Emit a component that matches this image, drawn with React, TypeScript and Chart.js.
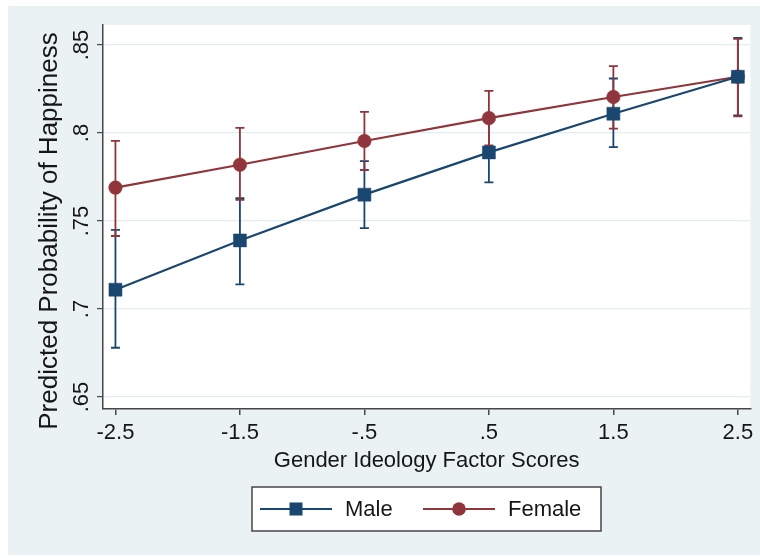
import React, { useEffect, useRef } from 'react';
import { Chart, registerables } from 'chart.js';

Chart.register(...registerables);

const xValues = [-2.5, -1.5, -0.5, 0.5, 1.5, 2.5];
const xTicks = [-2.5, -1.5, -0.5, 0.5, 1.5, 2.5];
const xTickLabels = ['-2.5', '-1.5', '-.5', '.5', '1.5', '2.5'];
const yTicks = [0.65, 0.7, 0.75, 0.8, 0.85];
const yTickLabels = ['.65', '.7', '.75', '.8', '.85'];

const maleValues = [0.711, 0.739, 0.765, 0.789, 0.811, 0.832];
const maleLow = [0.678, 0.714, 0.746, 0.772, 0.792, 0.81];
const maleHigh = [0.745, 0.763, 0.784, 0.807, 0.831, 0.854];

const femaleValues = [0.769, 0.782, 0.7955, 0.8085, 0.8205, 0.832];
const femaleLow = [0.7415, 0.762, 0.779, 0.793, 0.8025, 0.8095];
const femaleHigh = [0.7955, 0.803, 0.812, 0.824, 0.838, 0.8535];

const seriesLabels = ['Male', 'Female'];
const xTitle = 'Gender Ideology Factor Scores';
const yTitle = 'Predicted Probability of Happiness';

const BLUE = '#1a476f';
const RED = '#90353b';
const FONT = '"Liberation Sans", Arial, Helvetica, sans-serif';
const TEXT = '#161616';
const AXIS = '#474747';

const decorPlugin = {
  id: 'decor',
  beforeDraw(chart: any) {
    const { ctx, chartArea } = chart;
    ctx.save();
    ctx.fillStyle = '#ffffff';
    ctx.fillRect(0, 0, chart.width, chart.height);
    ctx.fillStyle = '#eaf2f3';
    ctx.fillRect(8, 6, chart.width - 8, chart.height - 9);
    ctx.fillStyle = '#ffffff';
    ctx.fillRect(chartArea.left, chartArea.top, chartArea.right - chartArea.left, chartArea.bottom - chartArea.top);
    ctx.restore();
  },
  beforeDatasetsDraw(chart: any) {
    const { ctx } = chart;
    const xs = chart.scales.x;
    const ys = chart.scales.y;
    ctx.save();
    chart.data.datasets.forEach((ds: any) => {
      ctx.strokeStyle = ds.borderColor;
      ctx.lineWidth = 1.8;
      ds.data.forEach((p: any, i: number) => {
        const px = xs.getPixelForValue(p.x);
        const lo = ys.getPixelForValue(ds.errLow[i]);
        const hi = ys.getPixelForValue(ds.errHigh[i]);
        ctx.beginPath();
        ctx.moveTo(px, lo);
        ctx.lineTo(px, hi);
        ctx.moveTo(px - 4.5, lo);
        ctx.lineTo(px + 4.5, lo);
        ctx.moveTo(px - 4.5, hi);
        ctx.lineTo(px + 4.5, hi);
        ctx.stroke();
      });
    });
    ctx.restore();
  },
  afterDraw(chart: any) {
    const { ctx, chartArea } = chart;
    const ys = chart.scales.y;
    ctx.save();
    ctx.fillStyle = TEXT;
    ctx.font = `22px ${FONT}`;
    ctx.textAlign = 'center';
    ctx.textBaseline = 'alphabetic';
    ys.ticks.forEach((t: any, i: number) => {
      const py = ys.getPixelForValue(t.value);
      ctx.save();
      ctx.translate(88, py);
      ctx.rotate(-Math.PI / 2);
      ctx.fillText(yTickLabels[i], 0, 0);
      ctx.restore();
    });
    ctx.font = `26px ${FONT}`;
    ctx.save();
    ctx.translate(57, 231);
    ctx.rotate(-Math.PI / 2);
    ctx.fillText(yTitle, 0, 0);
    ctx.restore();
    ctx.font = `22px ${FONT}`;
    ctx.fillText(xTitle, (chartArea.left + chartArea.right) / 2, 467);

    const lx = 252, ly = 487, lw = 349, lh = 44;
    ctx.fillStyle = '#ffffff';
    ctx.fillRect(lx, ly, lw, lh);
    ctx.strokeStyle = AXIS;
    ctx.lineWidth = 1.5;
    ctx.strokeRect(lx, ly, lw, lh);
    const cy = ly + lh / 2;
    const starts = [260, 423];
    chart.data.datasets.forEach((ds: any, i: number) => {
      const x0 = starts[i];
      ctx.strokeStyle = ds.borderColor;
      ctx.lineWidth = 2.2;
      ctx.beginPath();
      ctx.moveTo(x0, cy);
      ctx.lineTo(x0 + 72, cy);
      ctx.stroke();
      ctx.fillStyle = ds.borderColor;
      const mx = x0 + 36;
      if (ds.pointStyle === 'rect') {
        ctx.fillRect(mx - 6.5, cy - 6.5, 13, 13);
      } else {
        ctx.beginPath();
        ctx.arc(mx, cy, 6.8, 0, Math.PI * 2);
        ctx.fill();
      }
      ctx.fillStyle = TEXT;
      ctx.font = `22px ${FONT}`;
      ctx.textAlign = 'left';
      ctx.textBaseline = 'middle';
      ctx.fillText(ds.label, x0 + 85, cy + 1);
    });
    ctx.restore();
  },
};

export default function App() {
  const ref = useRef<HTMLCanvasElement | null>(null);
  useEffect(() => {
    document.body.style.margin = '0';
    if (!ref.current) return;
    const chart = new Chart(ref.current, {
      type: 'line',
      data: {
        datasets: [
          {
            label: seriesLabels[0],
            data: xValues.map((x, i) => ({ x, y: maleValues[i] })),
            errLow: maleLow,
            errHigh: maleHigh,
            borderColor: BLUE,
            backgroundColor: BLUE,
            borderWidth: 2.2,
            pointStyle: 'rect',
            pointRadius: 9.2,
            pointBorderWidth: 0.5,
            pointBorderColor: BLUE,
            pointBackgroundColor: BLUE,
          } as any,
          {
            label: seriesLabels[1],
            data: xValues.map((x, i) => ({ x, y: femaleValues[i] })),
            errLow: femaleLow,
            errHigh: femaleHigh,
            borderColor: RED,
            backgroundColor: RED,
            borderWidth: 2.2,
            pointStyle: 'circle',
            pointRadius: 6.8,
            pointBorderWidth: 0.5,
            pointBorderColor: RED,
            pointBackgroundColor: RED,
          } as any,
        ],
      },
      options: {
        animation: false,
        responsive: false,
        devicePixelRatio: 1,
        layout: { padding: { top: 25, right: 9, left: 0, bottom: 0 } },
        plugins: {
          legend: { display: false },
          tooltip: { enabled: false },
        },
        scales: {
          x: {
            type: 'linear',
            min: -2.6,
            max: 2.6,
            afterBuildTicks: (scale: any) => {
              scale.ticks = xTicks.map((v) => ({ value: v }));
            },
            afterFit: (scale: any) => {
              scale.height = 149;
            },
            ticks: {
              font: { family: FONT, size: 22 },
              color: TEXT,
              padding: 5,
              maxRotation: 0,
              autoSkip: false,
              callback: (v: any) => {
                const idx = xTicks.findIndex((t) => Math.abs(t - Number(v)) < 1e-9);
                return idx >= 0 ? xTickLabels[idx] : '';
              },
            },
            grid: { drawOnChartArea: false, drawTicks: true, tickLength: 6, color: AXIS, lineWidth: 1.5 },
            border: { color: AXIS, width: 1.5 },
          },
          y: {
            type: 'linear',
            min: 0.6432,
            max: 0.8614,
            afterBuildTicks: (scale: any) => {
              scale.ticks = yTicks.map((v) => ({ value: v }));
            },
            afterFit: (scale: any) => {
              scale.width = 103;
            },
            ticks: { display: false },
            grid: {
              drawOnChartArea: true,
              drawTicks: true,
              tickLength: 6,
              color: '#e3edf0',
              tickColor: AXIS,
              lineWidth: 1.2,
            },
            border: { color: AXIS, width: 1.5 },
          },
        },
      },
      plugins: [decorPlugin],
    } as any);
    return () => chart.destroy();
  }, []);
  return (
    <div style={{ width: 760, height: 558 }}>
      <canvas ref={ref} width={760} height={558} style={{ display: 'block' }} />
    </div>
  );
}
